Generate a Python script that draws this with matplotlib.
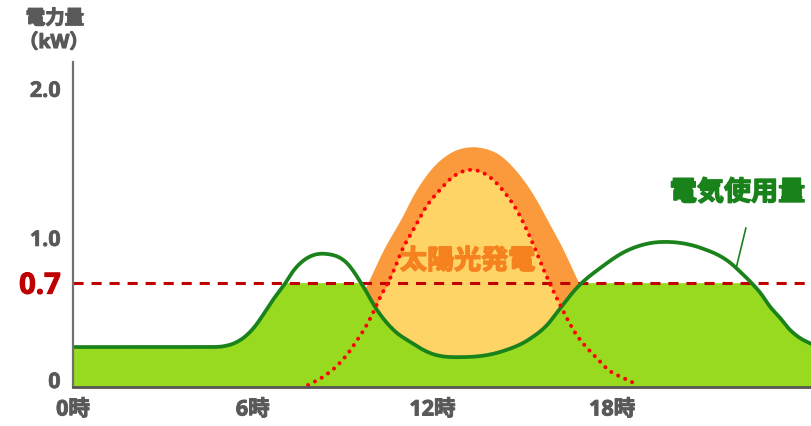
import numpy as np
import matplotlib
matplotlib.use("Agg")
import matplotlib.pyplot as plt
import matplotlib.patheffects as pe
from matplotlib.transforms import ScaledTranslation

plt.rcParams['font.family'] = ['Open Sans', 'Noto Sans CJK JP', 'DejaVu Sans']

# Household electricity use over the day (hour, kW)
usage_hours = [0.0, 2.4, 4.4, 4.74, 5.07, 5.40, 5.73, 6.06, 6.39, 6.72, 7.05,
               7.38, 7.72, 8.05, 8.44, 9.14, 9.70, 10.13, 10.70, 11.26, 11.92,
               13.11, 14.34, 15.23, 15.89, 16.16, 16.85, 17.65, 18.41, 19.30,
               19.87, 20.96, 21.95, 22.28, 22.62, 22.95, 23.28, 23.61, 23.94,
               24.27, 24.64]
usage_kw = [0.268, 0.268, 0.268, 0.268, 0.275, 0.295, 0.336, 0.403, 0.497,
            0.597, 0.685, 0.785, 0.852, 0.886, 0.893, 0.832, 0.671, 0.523,
            0.383, 0.302, 0.228, 0.201, 0.240, 0.320, 0.430, 0.500, 0.671,
            0.805, 0.906, 0.966, 0.973, 0.933, 0.832, 0.772, 0.705, 0.631,
            0.537, 0.463, 0.383, 0.329, 0.290]

# Solar generation, sunny-day envelope (orange band)
solar_hours = [7.88, 8.31, 8.77, 9.21, 9.77, 10.36, 10.93, 11.46, 12.02, 12.58,
               13.25, 13.68, 14.24, 14.77, 15.33, 15.89, 16.32, 16.89, 17.32,
               17.81, 18.31, 18.87]
solar_kw = [0.0, 0.148, 0.315, 0.483, 0.671, 0.919, 1.121, 1.322, 1.477, 1.570,
            1.611, 1.604, 1.557, 1.456, 1.302, 1.101, 0.940, 0.698, 0.530,
            0.336, 0.168, 0.0]

# Solar generation, lower estimate (dotted red curve, yellow fill)
solar_low_hours = [7.85, 8.34, 8.77, 9.14, 9.47, 9.77, 10.03, 10.26, 10.53,
                   10.76, 10.96, 11.36, 11.79, 12.25, 12.68, 13.38, 13.91,
                   14.34, 14.83, 15.33, 15.76, 16.23, 16.75, 17.48, 17.88,
                   18.38, 18.87]
solar_low_kw = [0.013, 0.067, 0.134, 0.215, 0.309, 0.403, 0.503, 0.604, 0.705,
                0.805, 0.906, 1.054, 1.208, 1.322, 1.409, 1.456, 1.409, 1.322,
                1.181, 0.973, 0.765, 0.564, 0.369, 0.195, 0.114, 0.060, 0.013]

threshold_kw = 0.7

x_tick_hours = [0, 6, 12, 18]
x_tick_labels = ["0時", "6時", "12時", "18時"]
y_tick_values = [0, 0.7, 1.0, 2.0]
y_tick_labels = ["0", "0.7", "1.0", "2.0"]

GREEN_FILL = "#97da1f"
GREEN_LINE = "#1a821a"
ORANGE = "#fb9a3c"
YELLOW = "#ffd466"
RED_DOT = "#ff0000"
RED_DASH = "#c00000"
GRAY_TEXT = "#595959"
SOLAR_TEXT = "#f5811f"


def smooth(x, y, n=800):
    """Smooth cubic Hermite curve through the points (three-point slopes)."""
    x = np.asarray(x, float)
    y = np.asarray(y, float)
    h = np.diff(x)
    d = np.diff(y) / h
    m = np.empty(len(x))
    m[1:-1] = (d[:-1] * h[1:] + d[1:] * h[:-1]) / (h[:-1] + h[1:])
    m[0], m[-1] = d[0], d[-1]
    xs = np.linspace(x[0], x[-1], n)
    i = np.clip(np.searchsorted(x, xs) - 1, 0, len(x) - 2)
    t = (xs - x[i]) / h[i]
    h00 = 2 * t**3 - 3 * t**2 + 1
    h10 = t**3 - 2 * t**2 + t
    h01 = -2 * t**3 + 3 * t**2
    h11 = t**3 - t**2
    ys = h00 * y[i] + h10 * h[i] * m[i] + h01 * y[i + 1] + h11 * h[i] * m[i + 1]
    return xs, ys


def thick(color, w=1.0):
    return [pe.withStroke(linewidth=w, foreground=color)]


fig = plt.figure(figsize=(8.11, 4.26), dpi=100)
ax = fig.add_axes([73 / 811, 39 / 426, 738 / 811, 325 / 426])

ux, uy = smooth(usage_hours, usage_kw, 1600)
sx, sy = smooth(solar_hours, solar_kw)
lx, ly = smooth(solar_low_hours, solar_low_kw)

ax.fill_between(sx, 0, sy, color=ORANGE, lw=0, zorder=1)
ax.fill_between(lx, 0, ly, color=YELLOW, lw=0, zorder=2)
ax.fill_between(ux, 0, np.minimum(uy, threshold_kw), color=GREEN_FILL, lw=0, zorder=3)
ax.axhline(threshold_kw, color=RED_DASH, lw=2.2, dashes=(3.3, 2.6), zorder=4)
ax.plot(ux, uy, color=GREEN_LINE, lw=2.7, zorder=5)
ax.plot(lx, ly, color=RED_DOT, lw=2.9, linestyle=(0, (0.01, 1.9)),
        dash_capstyle='round', zorder=6)

ax.set_xlim(0.2, 24.64)
ax.set_ylim(0, 2.18)

for s in ("top", "right"):
    ax.spines[s].set_visible(False)
ax.spines["left"].set_color("#707070")
ax.spines["left"].set_linewidth(1.6)
ax.spines["bottom"].set_color("#555555")
ax.spines["bottom"].set_linewidth(2.0)
ax.spines["left"].set_zorder(7)
ax.spines["bottom"].set_zorder(7)

ax.set_xticks(x_tick_hours)
ax.set_xticklabels(x_tick_labels, fontsize=15.5, fontweight="bold", color=GRAY_TEXT)
ax.set_yticks(y_tick_values)
ax.set_yticklabels(y_tick_labels, fontsize=15.5, fontweight="bold", color=GRAY_TEXT)
ax.tick_params(axis="both", length=0)
ax.tick_params(axis="x", pad=9)
ax.tick_params(axis="y", pad=9)

for lab in ax.get_xticklabels():
    lab.set_path_effects(thick(GRAY_TEXT, 0.7))
for lab in ax.get_yticklabels():
    if lab.get_text() == "0.7":
        lab.set_color(RED_DASH)
        lab.set_fontsize(21)
        lab.set_path_effects(thick(RED_DASH, 0.8))
    else:
        lab.set_path_effects(thick(GRAY_TEXT, 0.5))
    if lab.get_text() == "0":
        lab.set_transform(lab.get_transform() + ScaledTranslation(0, 5 / 72, fig.dpi_scale_trans))

fig.text(55 / 811, 1 - 19 / 426, "電力量", ha="center", va="center",
         fontsize=14, fontweight="bold", color=GRAY_TEXT,
         path_effects=thick(GRAY_TEXT, 0.8))
fig.text(54 / 811, 1 - 43 / 426, "（kW）", ha="center", va="center",
         fontsize=14, fontweight="bold", color=GRAY_TEXT,
         path_effects=thick(GRAY_TEXT, 0.8))

ax.text(13.18, 0.84, "太陽光発電", ha="center", va="center", fontsize=19.5,
        fontweight="bold", color=SOLAR_TEXT, zorder=8,
        path_effects=thick(SOLAR_TEXT, 1.0))
ax.annotate("電気使用量", xy=(22.15, 0.805), xytext=(22.19, 1.30),
            ha="center", va="center", fontsize=19.5, fontweight="bold",
            color=GREEN_LINE, zorder=8, path_effects=thick(GREEN_LINE, 1.0),
            arrowprops=dict(arrowstyle="-", color=GREEN_LINE, lw=1.2,
                            relpos=(0.6, 0.0), shrinkA=14, shrinkB=0))

fig.savefig("out.png", dpi=100)
